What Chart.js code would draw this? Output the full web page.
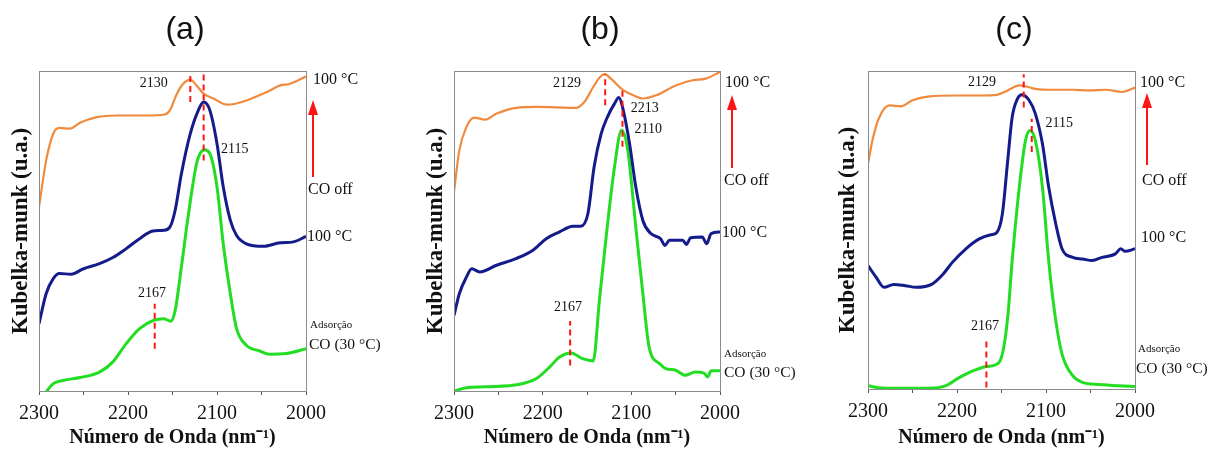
<!DOCTYPE html>
<html>
<head>
<meta charset="utf-8">
<script src="https://cdn.jsdelivr.net/npm/chart.js@4.4.0/dist/chart.umd.min.js"></script>
<style>
  html, body { margin: 0; padding: 0; background: #fff; }
  #wrap { position: relative; width: 1209px; height: 450px; overflow: hidden; }
  .panel { position: absolute; top: 0; width: 403px; height: 450px; }
</style>
</head>
<body>
<div id="wrap">
  <div class="panel" style="left:0px"><canvas id="chart-a" width="403" height="450"></canvas></div>
  <div class="panel" style="left:403px"><canvas id="chart-b" width="403" height="450"></canvas></div>
  <div class="panel" style="left:806px"><canvas id="chart-c" width="403" height="450"></canvas></div>
</div>
<script>
/* ---------- Data (Kubelka-Munk in arbitrary units 0..100) ---------- */
const tickLabels = [2300, 2200, 2100, 2000];
const xTitle = "Número de Onda (nm⁻¹)";
const yTitle = "Kubelka-munk (u.a.)";

// (a)
const aOrangeX = [2300,2292,2284,2277,2265,2254,2235,2213,2179,2159,2153,2145,2138,2130,2123,2115,2104,2089,2082,2067,2044,2029,2018,2000];
const aOrangeY = [57.5,72,80.4,82.2,82,83.8,85.6,86.1,86.1,86.4,87.7,92.9,96,97.3,95.5,92.9,91.4,89.5,89.6,90.8,93.4,95.5,96,98.3];
const aBlueX   = [2300,2292,2284,2277,2264,2250,2232,2217,2202,2187,2172,2160,2153,2147,2140,2130,2121,2115,2108,2100,2093,2085,2078,2067,2048,2029,2014,2000];
const aBlueY   = [21,30.4,35.1,36.7,36.5,38.2,39.8,41.7,44.5,47.6,50,50.2,51.2,56.5,67.9,80.4,87.7,90.3,87.7,77.3,63.8,53.3,48.6,46,45.2,46.3,46.6,48.3];
const aGreenX  = [2294,2284,2273,2254,2232,2217,2202,2187,2171,2160,2152,2147,2140,2132,2123,2119,2114,2108,2100,2093,2085,2078,2067,2052,2041,2022,2000];
const aGreenY  = [-1,2.3,3.3,4.2,5.9,9.1,14.8,19.5,22.1,22.6,21.8,25.2,38.8,55.4,71,74.2,75.4,74.2,63.8,46,30.4,19.5,14.3,12.5,11.5,11.7,13.2];
const aPeaks   = [[2130, 90.3, 99], [2115, 72, 99], [2170, 13.2, 27.3]]; // [wavenumber, yFrom, yTo]
const aPeakLabels = [["2130", 2171, 96.2], ["2115", 2080, 75.6], ["2167", 2173, 30.6]];

// (b)
const bOrangeX = [2300,2294,2286,2277,2265,2252,2230,2207,2162,2153,2143,2136,2130,2123,2110,2098,2087,2072,2050,2031,2016,2000];
const bOrangeY = [62.2,75.2,82.5,85.4,84.8,86.7,88.5,88.8,88.5,90.3,95,97.9,99,97.6,94.2,92.4,91.4,92.4,95.5,97.1,97.6,99.7];
const bBlueX   = [2300,2294,2286,2280,2271,2252,2230,2211,2196,2181,2166,2157,2149,2142,2134,2127,2119,2114,2110,2102,2095,2087,2078,2067,2062,2057,2042,2038,2033,2020,2015,2010,2000];
const bBlueY   = [23.6,30.4,35.6,38.2,37.2,39.3,41.4,44,47.6,49.7,51.5,51.5,55.4,70,80.4,85.6,89.8,91.7,88.8,77.3,63.8,53.3,49.2,47.6,45.5,47.1,47.1,45.8,47.9,48.1,46,49.2,49.7];
const bGreenX  = [2300,2286,2264,2226,2207,2192,2181,2168,2155,2143,2136,2128,2119,2111,2104,2095,2087,2080,2068,2061,2050,2039,2028,2018,2014,2010,2000];
const bGreenY  = [0,1,1.3,2.1,3.9,7.5,10.6,11.9,10.1,9.4,28.3,49.2,70,81.5,75.2,51.3,30.4,13.8,8.5,7,6.5,4.9,5.9,5.6,4.4,6.3,6.3];
const bPeaks   = [[2129.5, 89.3, 99], [2110, 76.3, 94.2], [2169, 8, 21.9]];
const bPeakLabels = [["2129", 2172.6, 96.3], ["2213", 2085, 88.4], ["2110", 2081, 81.9], ["2167", 2171.5, 26.3]];

// (c)
const cOrangeX = [2300,2295,2288,2276,2263,2250,2231,2202,2175,2155,2143,2130,2123,2112,2097,2070,2052,2033,2014,2000];
const cOrangeY = [70.8,78.2,85,89.2,88.9,90.8,92,92.3,92.3,92.5,93.9,95.5,95.2,94.4,94.1,94.1,93.9,94.1,93.4,94.8];
const cBlueX   = [2300,2291,2282,2271,2258,2246,2228,2216,2205,2190,2175,2162,2155,2149,2143,2138,2132,2127,2119,2112,2104,2097,2089,2082,2070,2059,2048,2037,2022,2016,2011,2000];
const cBlueY   = [38.8,35.2,32,32.9,32.5,32,33,36,39.9,44.1,47.2,48.5,49.3,55.1,71.9,85.5,91.3,92.5,90.8,86.6,77.1,63.5,51.9,44.1,41.4,40.9,40.4,41.4,42.5,44.1,43.3,44.1];
const cGreenX  = [2300,2284,2258,2228,2213,2198,2183,2167,2156,2149,2143,2138,2130,2123,2118,2112,2104,2097,2089,2082,2070,2059,2040,2018,2000];
const cGreenY  = [1,0.3,0.2,0.3,1,3.5,5.6,7.1,7.7,11,22.6,40.4,63.5,78.2,81.3,78.2,63.5,40.4,21.5,11,4.2,2.1,1.4,1,0.8];
const cPeaks   = [[2125, 88.5, 99], [2116, 74.5, 85], [2167, 0.5, 15.2]];
const cPeakLabels = [["2129", 2172, 96.5], ["2115", 2085, 83.7], ["2167", 2168.5, 19.7]];

/* ---------- Styling ---------- */
const SERIF = '"Liberation Serif", "Times New Roman", serif';
const ORANGE = "#f08a3c", NAVY = "#141b8a", GREEN = "#22dd22", RED = "#ff1414";

const panels = [
  { id: "chart-a", tag: "(a)", tagX: 185, left: 39, right: 306, bottom: 391, titleX: 21,
    series: [[aOrangeX, aOrangeY, ORANGE, 2.2], [aBlueX, aBlueY, NAVY, 3], [aGreenX, aGreenY, GREEN, 3]],
    peaks: aPeaks, peakLabels: aPeakLabels,
    side: { top: [7, 80], arrow: [7, 177, 100], off: [2, 190], mid: [1, 237], ads: [4, 325], co: [3, 345] } },
  { id: "chart-b", tag: "(b)", tagX: 197, left: 51, right: 317, bottom: 391, titleX: 33,
    series: [[bOrangeX, bOrangeY, ORANGE, 2.2], [bBlueX, bBlueY, NAVY, 3], [bGreenX, bGreenY, GREEN, 3]],
    peaks: bPeaks, peakLabels: bPeakLabels,
    side: { top: [5, 83], arrow: [12, 168, 95], off: [4, 181], mid: [2, 233], ads: [4, 354], co: [4, 373] } },
  { id: "chart-c", tag: "(c)", tagX: 208, left: 62, right: 329, bottom: 389, titleX: 42,
    series: [[cOrangeX, cOrangeY, ORANGE, 2.2], [cBlueX, cBlueY, NAVY, 3], [cGreenX, cGreenY, GREEN, 3]],
    peaks: cPeaks, peakLabels: cPeakLabels,
    side: { top: [5, 83], arrow: [12, 165, 93], off: [7, 181], mid: [6, 238], ads: [3, 349], co: [1, 369] } }
];

/* ---------- Frame, panel tag, peak labels and the right-hand notes ---------- */
const decor = {
  id: "decor",
  afterDatasetsDraw(chart, args, opts) {
    const p = opts.panel;
    const { ctx, chartArea: a, scales: { x, y } } = chart;
    ctx.save();
    ctx.strokeStyle = "#8c8c8c";
    ctx.lineWidth = 1;
    ctx.strokeRect(a.left + 0.5, a.top + 0.5, a.right - a.left, a.bottom - a.top);

    ctx.fillStyle = "#111";
    ctx.textAlign = "center";
    ctx.textBaseline = "middle";
    ctx.font = '32px "Liberation Sans", Arial, sans-serif';
    ctx.fillText(p.tag, p.tagX, 30);

    ctx.font = "14px " + SERIF;
    p.peakLabels.forEach(([t, xv, yv]) => ctx.fillText(t, x.getPixelForValue(xv), y.getPixelForValue(yv)));

    const s = p.side, r = a.right;
    ctx.textAlign = "left";
    ctx.font = "16px " + SERIF;
    ctx.fillText("100 °C", r + s.top[0], s.top[1]);
    ctx.fillText("CO off", r + s.off[0], s.off[1]);
    ctx.fillText("100 °C", r + s.mid[0], s.mid[1]);
    ctx.font = "15.5px " + SERIF;
    ctx.fillText("CO (30 °C)", r + s.co[0], s.co[1]);
    ctx.font = "11px " + SERIF;
    ctx.fillText("Adsorção", r + s.ads[0], s.ads[1]);

    // red arrow
    const [dx, yb, yt] = s.arrow, ax = r + dx;
    ctx.strokeStyle = RED; ctx.fillStyle = RED; ctx.lineWidth = 2;
    ctx.beginPath(); ctx.moveTo(ax, yb); ctx.lineTo(ax, yt + 12); ctx.stroke();
    ctx.beginPath(); ctx.moveTo(ax, yt); ctx.lineTo(ax - 5, yt + 15); ctx.lineTo(ax + 5, yt + 15); ctx.closePath(); ctx.fill();
    ctx.restore();
  }
};

function makePanel(p) {
  const datasets = [];
  p.peaks.forEach(([xv, y0, y1]) => datasets.push({
    data: [{ x: xv, y: y0 }, { x: xv, y: y1 }],
    borderColor: RED, borderWidth: 2, borderDash: [6, 4], pointRadius: 0, order: 0
  }));
  p.series.forEach(([xs, ys, color, w]) => datasets.push({
    data: xs.map((xv, i) => ({ x: xv, y: ys[i] })),
    borderColor: color, borderWidth: w, pointRadius: 0,
    cubicInterpolationMode: "monotone", clip: 0, order: 1
  }));

  const padLeft = p.titleX - 21;
  return new Chart(document.getElementById(p.id), {
    type: "line",
    data: { datasets },
    options: {
      responsive: false,
      animation: false,
      events: [],
      layout: { padding: { left: padLeft, right: 403 - p.right, top: 71, bottom: 0 } },
      plugins: { legend: { display: false }, tooltip: { enabled: false }, decor: { panel: p } },
      scales: {
        x: {
          type: "linear", reverse: true, min: 2000, max: 2300,
          afterFit: (s) => { s.height = 450 - p.bottom; },
          ticks: {
            stepSize: 50, autoSkip: false, maxRotation: 0, padding: 7, color: "#111",
            font: { family: SERIF, size: 20 },
            callback: (v) => tickLabels.includes(v) ? String(v) : ""
          },
          grid: { drawOnChartArea: false, drawTicks: true, tickLength: 4, color: "#555" },
          border: { display: true, color: "#555" },
          title: { display: true, text: xTitle, color: "#111", padding: { top: 0, bottom: 0 },
                   font: { family: SERIF, size: 20, weight: "bold" } }
        },
        y: {
          min: 0, max: 100,
          afterFit: (s) => { s.width = p.left - padLeft; },
          ticks: { display: false },
          grid: { display: false },
          border: { display: false },
          title: { display: true, text: yTitle, color: "#111", padding: { top: 7, bottom: 0 },
                   font: { family: SERIF, size: 23, weight: "bold" } }
        }
      }
    },
    plugins: [decor]
  });
}

panels.forEach(makePanel);
</script>
</body>
</html>
